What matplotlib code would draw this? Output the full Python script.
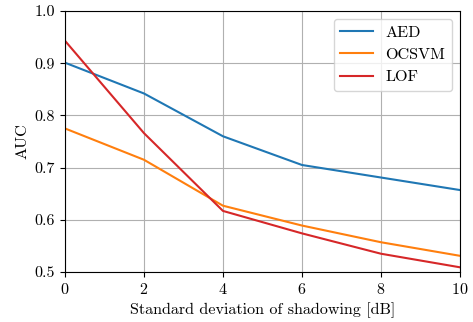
import matplotlib
matplotlib.use("Agg")
import matplotlib.pyplot as plt

plt.rcParams['font.family'] = 'serif'
plt.rcParams['font.serif'] = ['cmr10']
plt.rcParams['mathtext.fontset'] = 'cm'
plt.rcParams['axes.formatter.use_mathtext'] = True

x = [0, 2, 4, 6, 8, 10]
aed = [0.901, 0.842, 0.760, 0.705, 0.681, 0.657]
ocsvm = [0.775, 0.715, 0.627, 0.589, 0.557, 0.531]
lof = [0.943, 0.766, 0.617, 0.574, 0.535, 0.509]

fig = plt.figure(figsize=(4.73, 3.22), dpi=100)
ax = fig.add_axes([0.1374, 0.1553, 0.835, 0.8105])
ax.plot(x, aed, color='tab:blue', label='AED', lw=1.5)
ax.plot(x, ocsvm, color='tab:orange', label='OCSVM', lw=1.5)
ax.plot(x, lof, color='tab:red', label='LOF', lw=1.5)
ax.set_xlim(0, 10)
ax.set_ylim(0.5, 1.0)
ax.set_xticks([0, 2, 4, 6, 8, 10])
ax.set_yticks([0.5, 0.6, 0.7, 0.8, 0.9, 1.0])
ax.set_yticklabels(['0.5', '0.6', '0.7', '0.8', '0.9', '1.0'])
ax.grid(True, color='#b0b0b0', lw=0.8)
ax.tick_params(labelsize=11.6)
ax.set_xlabel('Standard deviation of shadowing [dB]', fontsize=11.6)
ax.set_ylabel('AUC', fontsize=11.6)
ax.legend(loc='upper right', fontsize=11.6)
fig.savefig('out.png', dpi=100)
